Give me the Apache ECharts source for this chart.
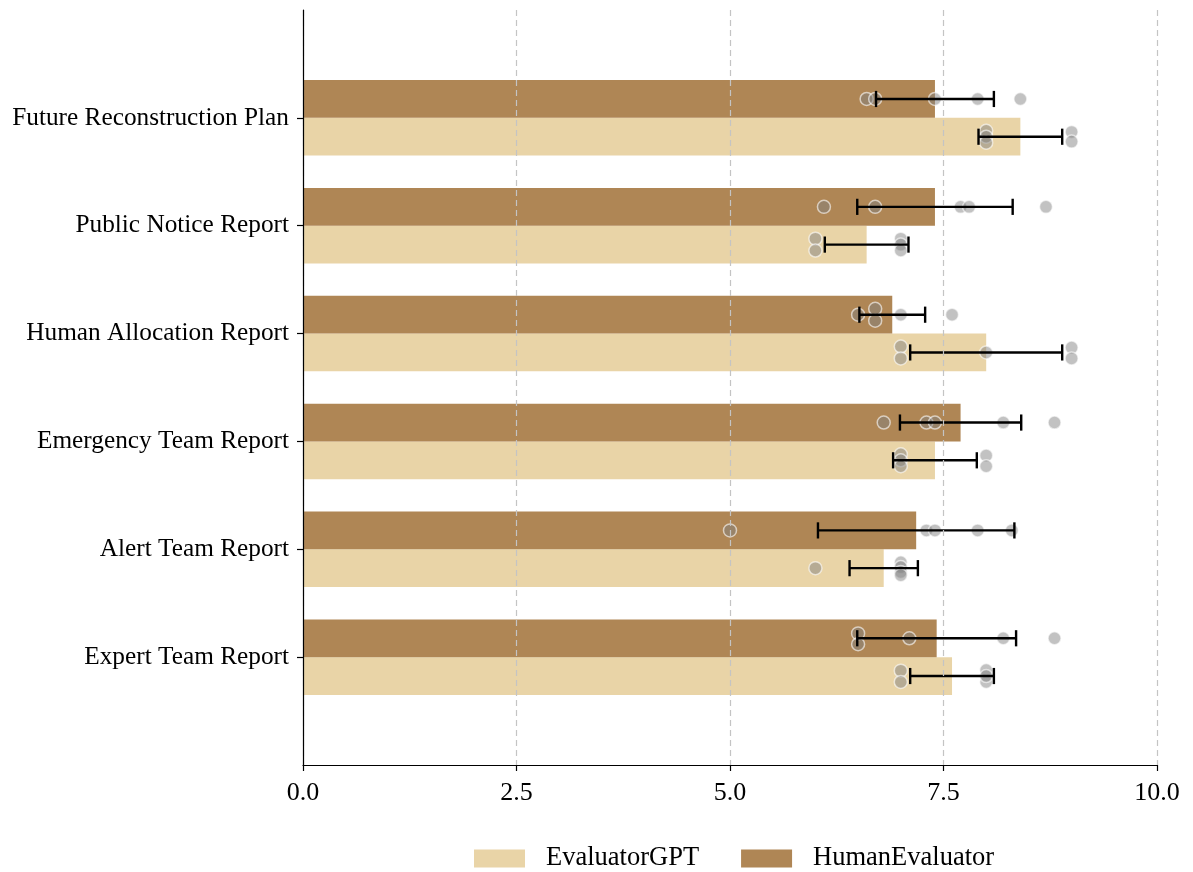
<!DOCTYPE html>
<html>
<head>
<meta charset="utf-8">
<script src="https://cdn.jsdelivr.net/npm/echarts@6/dist/echarts.min.js"></script>
<style>html,body{margin:0;padding:0;background:#fff;}#c{width:1193px;height:872px;}</style>
</head>
<body>
<div id="c"></div>
<script>
// Categories, bottom to top
var categories = ['Expert Team Report', 'Alert Team Report', 'Emergency Team Report', 'Human Allocation Report', 'Public Notice Report', 'Future Reconstruction Plan'];
var seriesNames = ['EvaluatorGPT', 'HumanEvaluator'];
var xTicks = [0, 2.5, 5, 7.5, 10];

// Bar means
var gptMean = [7.6, 6.8, 7.4, 8.0, 6.6, 8.4];
var humanMean = [7.42, 7.18, 7.7, 6.9, 7.4, 7.4];
// Error bar half-widths (std)
var gptSd = [0.49, 0.40, 0.49, 0.89, 0.49, 0.49];
var humanSd = [0.93, 1.15, 0.71, 0.385, 0.91, 0.69];

// Individual scores per category
var gptPoints = [
  [7, 7, 8, 8, 8],
  [6, 7, 7, 7, 7],
  [7, 7, 7, 8, 8],
  [7, 7, 8, 9, 9],
  [6, 6, 7, 7, 7],
  [8, 8, 8, 9, 9]
];
var humanPoints = [
  [6.5, 6.5, 7.1, 8.2, 8.8],
  [5.0, 7.3, 7.4, 7.9, 8.3],
  [6.8, 7.3, 7.4, 8.2, 8.8],
  [6.5, 6.7, 6.7, 7.0, 7.6],
  [6.1, 6.7, 7.7, 7.8, 8.7],
  [6.6, 6.7, 7.4, 7.9, 8.4]
];
// vertical jitter of each point (in category units)
var gptJitter = [
  [-0.05, 0.055, -0.055, 0.055, 0],
  [0, -0.055, -0.01, 0.035, 0.065],
  [-0.055, 0, 0.055, -0.045, 0.055],
  [-0.055, 0.055, 0, -0.045, 0.055],
  [-0.055, 0.055, -0.055, 0, 0.055],
  [-0.055, 0, 0.055, -0.045, 0.045]
];
var humanJitter = [
  [-0.045, 0.055, 0, 0, 0],
  [0, 0, 0, 0, 0],
  [0, 0, 0, 0, 0],
  [0, -0.055, 0.055, 0, 0],
  [0, 0, 0, 0, 0],
  [0, 0, 0, 0, 0]
];

var GPT_COLOR = '#E9D4A7';
var HUMAN_COLOR = '#AF8655';
var BAR_H = 0.35;
var FONT = "'Liberation Serif', 'Times New Roman', serif";

function barData(means, side) {
  return means.map(function (m, i) { return [m, i, side]; });
}
function renderBar(params, api) {
  var v = api.value(0), i = api.value(1), side = api.value(2);
  var lo = side > 0 ? i : i - BAR_H;
  var hi = side > 0 ? i + BAR_H : i;
  var p0 = api.coord([0, hi]);
  var p1 = api.coord([v, lo]);
  return {
    type: 'rect',
    shape: { x: p0[0], y: p0[1], width: p1[0] - p0[0], height: p1[1] - p0[1] },
    style: { fill: api.visual('color') }
  };
}
function errData(means, sds, side) {
  return means.map(function (m, i) { return [m, sds[i], i + side * BAR_H / 2]; });
}
function renderErr(params, api) {
  var m = api.value(0), s = api.value(1), y = api.value(2);
  var a = api.coord([m - s, y]);
  var b = api.coord([m + s, y]);
  var capT = api.coord([m, y + 0.075])[1];
  var capB = api.coord([m, y - 0.075])[1];
  var st = { stroke: '#000', lineWidth: 2.4 };
  return {
    type: 'group',
    children: [
      { type: 'line', shape: { x1: a[0], y1: a[1], x2: b[0], y2: b[1] }, style: st },
      { type: 'line', shape: { x1: a[0], y1: capT, x2: a[0], y2: capB }, style: st },
      { type: 'line', shape: { x1: b[0], y1: capT, x2: b[0], y2: capB }, style: st }
    ]
  };
}
function pointData(points, jitter, side) {
  var out = [];
  points.forEach(function (row, i) {
    row.forEach(function (v, k) {
      out.push([v, i + side * BAR_H / 2 - jitter[i][k]]);
    });
  });
  return out;
}

var pointStyle = { color: 'rgba(128,128,128,0.6)', borderColor: 'rgba(255,255,255,0.75)', borderWidth: 1.5 };

var chart = echarts.init(document.getElementById('c'));
chart.setOption({
  animation: false,
  backgroundColor: '#fff',
  textStyle: { fontFamily: FONT },
  grid: { left: 303, right: 36, top: 10, bottom: 107 },
  legend: {
    data: [
      { name: seriesNames[0], icon: 'rect' },
      { name: seriesNames[1], icon: 'rect' }
    ],
    left: 469,
    top: 840,
    itemWidth: 51,
    itemHeight: 18,
    itemGap: 42,
    textStyle: { fontFamily: FONT, fontSize: 26.5, color: '#000', padding: [0, 0, 0, 16] }
  },
  xAxis: {
    type: 'value',
    min: 0,
    max: 10,
    interval: 2.5,
    z: 10,
    axisLine: { show: true, onZero: false, lineStyle: { color: '#000', width: 1.2 } },
    axisTick: { show: true, length: 6, lineStyle: { color: '#000', width: 1.2 } },
    axisLabel: {
      fontFamily: FONT, fontSize: 26, color: '#000', margin: 15,
      formatter: function (v) { return v.toFixed(1); }
    },
    splitLine: { show: true, lineStyle: { color: '#c4c4c4', type: [6, 4], width: 1.2 } }
  },
  yAxis: {
    type: 'value',
    min: -1,
    max: 6,
    interval: 1,
    z: 10,
    axisLine: { show: true, onZero: false, lineStyle: { color: '#000', width: 1.2 } },
    axisTick: { show: true, length: 6, customValues: [0, 1, 2, 3, 4, 5], lineStyle: { color: '#000', width: 1.2 } },
    axisLabel: {
      customValues: [0, 1, 2, 3, 4, 5],
      fontFamily: FONT, fontSize: 25.3, color: '#000', margin: 14, padding: [9, 0, 0, 0],
      formatter: function (v) { return categories[Math.round(v)] || ''; }
    },
    splitLine: { show: false }
  },
  series: [
    {
      name: seriesNames[0], type: 'custom', renderItem: renderBar,
      itemStyle: { color: GPT_COLOR }, z: 1,
      encode: { x: 0, y: 1 }, data: barData(gptMean, -1)
    },
    {
      name: seriesNames[1], type: 'custom', renderItem: renderBar,
      itemStyle: { color: HUMAN_COLOR }, z: 1,
      encode: { x: 0, y: 1 }, data: barData(humanMean, 1)
    },
    {
      name: 'gptPts', type: 'scatter', symbolSize: 13, z: 3,
      itemStyle: pointStyle, data: pointData(gptPoints, gptJitter, -1)
    },
    {
      name: 'humanPts', type: 'scatter', symbolSize: 13, z: 3,
      itemStyle: pointStyle, data: pointData(humanPoints, humanJitter, 1)
    },
    {
      name: 'gptErr', type: 'custom', renderItem: renderErr, z: 5,
      encode: { x: [0], y: 2 }, data: errData(gptMean, gptSd, -1)
    },
    {
      name: 'humanErr', type: 'custom', renderItem: renderErr, z: 5,
      encode: { x: [0], y: 2 }, data: errData(humanMean, humanSd, 1)
    }
  ]
});
</script>
</body>
</html>
